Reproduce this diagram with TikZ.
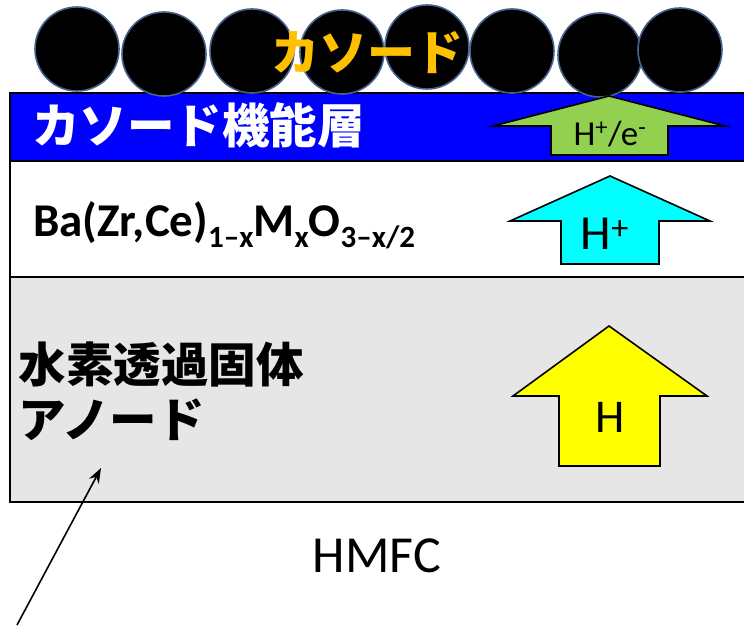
\documentclass[tikz,border=0pt]{standalone}
\usepackage{fontspec}
\setmainfont{Carlito}
\newfontfamily\jp{Noto Sans CJK JP}
\usetikzlibrary{arrows.meta}
\definecolor{layerblue}{HTML}{0000FF}
\definecolor{layergray}{HTML}{E6E6E6}
\definecolor{circedge}{HTML}{46638F}
\definecolor{cathorange}{HTML}{FFC000}
\definecolor{arrgreen}{HTML}{92D050}
\definecolor{arrcyan}{HTML}{00FFFF}
\definecolor{arryellow}{HTML}{FFFF00}
\newcommand{\fs}[1]{\fontsize{#1}{#1}\selectfont}
\newcommand{\lowsub}[1]{\raisebox{-11pt}{\fs{31}#1}}
\begin{document}
\begin{tikzpicture}[x=1pt,y=-1pt,
  layer/.style={draw=black,line width=2.2pt},
  particle/.style={fill=black,draw=circedge,line width=1.6pt},
  blockarrow/.style={draw=black,line width=1.6pt,line join=miter},
  txt/.style={inner sep=0pt,outer sep=0pt}]
\useasboundingbox (0,0) rectangle (744,629);
\clip (0,0) rectangle (744,629);
% layers
\fill[white] (0,0) rectangle (744,629);
\draw[layer,fill=layergray] (10,277) rectangle (770,502);
\draw[layer,fill=white] (10,161) rectangle (770,277);
\draw[layer,fill=layerblue] (10,93) rectangle (770,161);
% cathode particles
\foreach \cx/\cy in {77/49,164/54,252/51,342/52,427/47,512/51,600/55,680/50}
  \draw[particle] (\cx,\cy) circle[radius=42];
% block arrows
\draw[blockarrow,fill=arrgreen] (609,96) -- (725,126) -- (668,126) -- (668,155) -- (551,155) -- (551,126) -- (493,126) -- cycle;
\draw[blockarrow,fill=arrcyan] (610,176) -- (710,221) -- (659,221) -- (659,264) -- (561,264) -- (561,221) -- (510,221) -- cycle;
\draw[blockarrow,fill=arryellow] (609,326) -- (707,396) -- (660,396) -- (660,466) -- (559,466) -- (559,396) -- (513,396) -- cycle;
% texts
\node[txt,text=cathorange] (cathode) at (367,53) {\jp\bfseries\fs{48}カソード};
\node[txt,text=white,anchor=west] (cfl) at (32,125) {\jp\bfseries\fs{47.5}カソード機能層};
\node[txt,anchor=base west] (bzcm) at (33,236) {\bfseries\fs{47}Ba(Zr,Ce)\lowsub{1–x}M\lowsub{x}O\lowsub{3–x/2}};
\node[txt,anchor=west] (hpt1) at (19,364) {\jp\bfseries\fs{47.5}水素透過固体};
\node[txt,anchor=west] (hpt2) at (19,420) {\jp\bfseries\fs{47.5}アノード};
\node[txt,anchor=base] (hmfc) at (377,572) {\fs{52}HMFC};
\node[txt,anchor=base] (lhe) at (610,145) {\fs{35}H\textsuperscript{+}/e\textsuperscript{-}};
\node[txt,anchor=base] (lhp) at (605,249) {\fs{49}H\textsuperscript{+}};
\node[txt,anchor=base] (lh) at (610,432) {\fs{47}H};
% pointer
\coordinate (ptr0) at (17,625);
\coordinate (ptr1) at (101,468);
\draw[line width=1.6pt,-{Stealth[length=15pt,width=11pt]}] (ptr0) -- (ptr1);
\end{tikzpicture}
\end{document}
